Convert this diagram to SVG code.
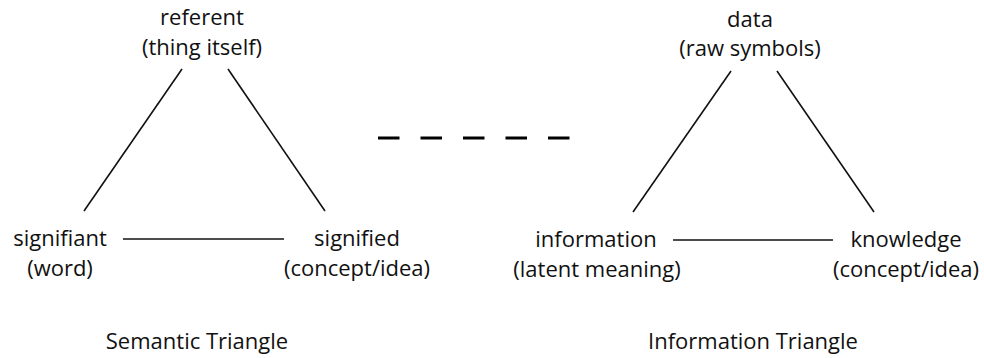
<svg xmlns="http://www.w3.org/2000/svg" width="984" height="358" viewBox="0 0 984 358">
<style>
text{font-family:"Open Sans","Liberation Sans",sans-serif;font-size:22px;fill:#111;text-anchor:middle}
.ln{stroke:#111;stroke-width:1.6;fill:none}
.dash{stroke:#000;stroke-width:3;fill:none}
</style>
<rect width="984" height="358" fill="#fff"/>
<g id="referent"><text x="202" y="25">referent</text><text x="202" y="55">(thing itself)</text></g>
<g id="signifiant"><text x="60" y="246">signifiant</text><text x="60" y="276">(word)</text></g>
<g id="signified"><text x="357" y="246">signified</text><text x="357" y="276">(concept/idea)</text></g>
<g id="data"><text x="750" y="27">data</text><text x="750" y="56">(raw symbols)</text></g>
<g id="information"><text x="596" y="247">information</text><text x="597" y="277">(latent meaning)</text></g>
<g id="knowledge"><text x="906" y="247">knowledge</text><text x="906" y="277">(concept/idea)</text></g>
<g id="connectors">
<line class="ln" x1="182" y1="69" x2="84" y2="211"/>
<line class="ln" x1="228" y1="69" x2="325" y2="211"/>
<line class="ln" x1="123" y1="239" x2="284" y2="239"/>
<line class="ln" x1="731" y1="71" x2="633" y2="212"/>
<line class="ln" x1="777" y1="71" x2="874" y2="212"/>
<line class="ln" x1="673" y1="240" x2="833" y2="240"/>
<line class="dash" x1="378" y1="138" x2="570" y2="138" stroke-dasharray="21.5 21"/>
</g>
<g id="captions"><text x="197" y="349">Semantic Triangle</text><text x="753" y="349">Information Triangle</text></g>
</svg>
